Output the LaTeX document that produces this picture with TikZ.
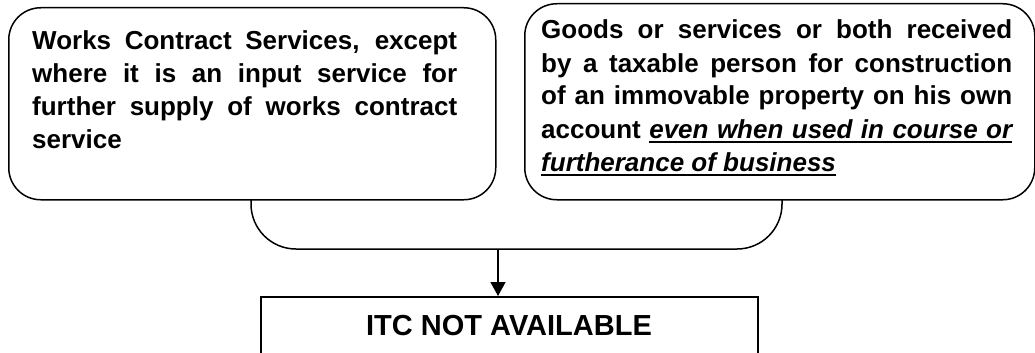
\documentclass[tikz,border=0pt]{standalone}
\usepackage{fontspec}
\setmainfont{Liberation Sans}
\usetikzlibrary{arrows.meta}
\newcommand{\jblock}[2]{\vtop{\hsize=#1\parindent=0pt\leftskip=0pt\rightskip=0pt\tolerance=10000\hbadness=10000\hyphenpenalty=10000\parfillskip=0pt plus 1fil\relax
\fontsize{26}{33}\selectfont\bfseries #2\par}}
\newcommand{\ulw}[1]{\setbox0=\hbox{#1}\rlap{\vrule height -2.6pt depth 4.5pt width \wd0}\box0}
\newcommand{\uls}{\leaders\hrule height -2.6pt depth 4.5pt\hskip\fontdimen2\font plus\fontdimen3\font minus\fontdimen4\font\relax}
\begin{document}
\begin{tikzpicture}[x=1pt,y=-1pt,
  roundbox/.style={draw=black, line width=1.5pt, rounded corners=32pt, minimum width=#1, anchor=north west, inner sep=0pt},
  plainbox/.style={draw=black, line width=1.8pt, anchor=north west, inner sep=0pt},
  txt/.style={anchor=base west, inner sep=0pt},
  link/.style={line width=1.5pt}
]
\useasboundingbox (0,0) rectangle (1035,353);
\clip (0,0) rectangle (1035,353);
\fill[white] (0,0) rectangle (1035,353);

\node[roundbox=487pt, minimum height=192pt] (b1) at (8,7) {};
\node[roundbox=510pt, minimum height=196pt] (b2) at (524,3) {};
\node[plainbox, minimum width=497pt, minimum height=100pt] (itc) at (260,296) {};

\node[txt] (t1) at (32,49) {\jblock{425pt}{Works Contract Services, except\break where it is an input service for\break further supply of works contract\break service}};
\node[txt] (t2) at (541,39) {\jblock{471pt}{Goods or services or both received\break by a taxable person for construction\break of an immovable property on his own\break account {\itshape\ulw{even}\uls\ulw{when}\uls\ulw{used}\uls\ulw{in}\uls\ulw{course}\uls\ulw{or}\break \ulw{furtherance}\uls\ulw{of}\uls\ulw{business}}}};

\node[anchor=base, inner sep=0pt, font=\fontsize{29}{34}\selectfont\bfseries] (itclabel) at (509,335) {ITC NOT AVAILABLE};

\coordinate (bl) at (251,199);
\coordinate (br) at (782,199);
\coordinate (bm) at (498,249);
\draw[link, rounded corners=45pt] (bl) -- (bl |- bm) -- (br |- bm) -- (br);
\draw[link, -{Triangle[width=15pt,length=14pt]}] (bm) -- (bm |- itc.north);
\end{tikzpicture}
\end{document}
